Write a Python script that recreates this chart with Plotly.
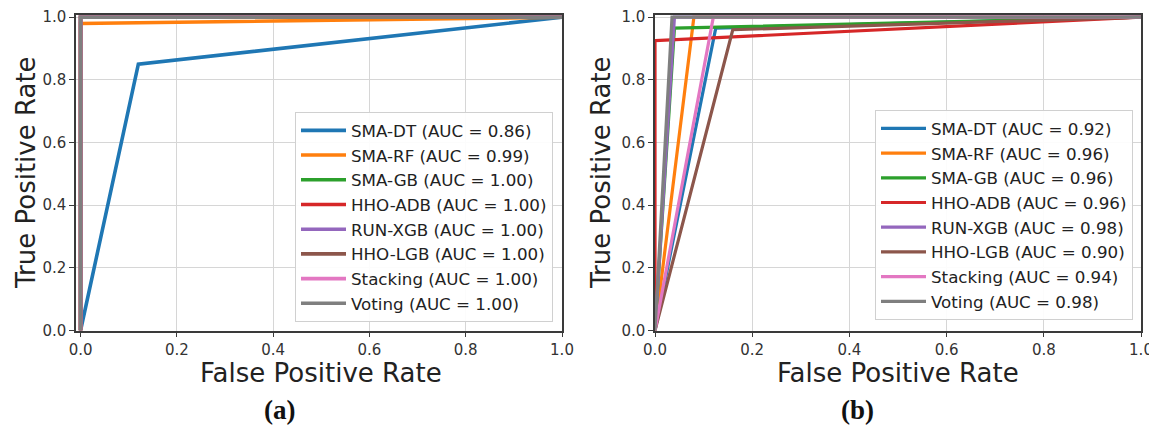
import plotly.graph_objects as go

W, H = 1149, 430

names = ["SMA-DT", "SMA-RF", "SMA-GB", "HHO-ADB", "RUN-XGB", "HHO-LGB", "Stacking", "Voting"]
colors = ["#1f77b4", "#ff7f0e", "#2ca02c", "#d62728", "#9467bd", "#8c564b", "#e377c2", "#7f7f7f"]

# Panel (a)
auc_a = ["0.86", "0.99", "1.00", "1.00", "1.00", "1.00", "1.00", "1.00"]
fpr_a = [[0, 0.12, 1], [0, 0, 1], [0, 0, 1], [0, 0, 1], [0, 0, 1], [0, 0, 1], [0, 0, 1], [0, 0, 1]]
tpr_a = [[0, 0.85, 1], [0, 0.98, 1], [0, 1, 1], [0, 1, 1], [0, 1, 1], [0, 1, 1], [0, 1, 1], [0, 1, 1]]

# Panel (b)
auc_b = ["0.92", "0.96", "0.96", "0.96", "0.98", "0.90", "0.94", "0.98"]
fpr_b = [[0, 0.125, 1], [0, 0.08, 1], [0, 0.04, 1], [0, 0, 1], [0, 0.04, 1], [0, 0.16, 1], [0, 0.12, 1], [0, 0.035, 1]]
tpr_b = [[0, 0.965, 1], [0, 1, 1], [0, 0.965, 1], [0, 0.925, 1], [0, 1, 1], [0, 0.96, 1], [0, 1, 1], [0, 1, 1]]

axis_ticks = [0.0, 0.2, 0.4, 0.6, 0.8, 1.0]
tick_text = ["0.0", "0.2", "0.4", "0.6", "0.8", "1.0"]

FONT = "DejaVu Sans"

fig = go.Figure()

for i, n in enumerate(names):
    fig.add_trace(go.Scatter(
        x=fpr_a[i], y=tpr_a[i], mode="lines",
        line=dict(color=colors[i], width=3.6),
        name=f"{n} (AUC = {auc_a[i]})",
        xaxis="x", yaxis="y", legend="legend",
    ))
for i, n in enumerate(names):
    fig.add_trace(go.Scatter(
        x=fpr_b[i], y=tpr_b[i], mode="lines",
        line=dict(color=colors[i], width=3.2),
        name=f"{n} (AUC = {auc_b[i]})",
        xaxis="x2", yaxis="y2", legend="legend2",
    ))

def px(x):
    return x / W

def py(y):
    return 1 - y / H

y_dom = [py(330.5), py(15)]

common_axis = dict(
    tickvals=axis_ticks, ticktext=tick_text,
    showgrid=True, gridcolor="#d6d6d6", gridwidth=1,
    showline=True, linecolor="#3a3a3a", linewidth=1.5, mirror=True,
    ticks="outside", ticklen=5, tickcolor="#3a3a3a", tickwidth=1.2,
    tickfont=dict(family=FONT, size=15, color="#333333"),
    zeroline=False, fixedrange=True, automargin=False,
    ticklabeloverflow="allow",
)

fig.update_layout(
    width=W, height=H,
    margin=dict(l=0, r=0, t=0, b=0, autoexpand=False),
    paper_bgcolor="white", plot_bgcolor="white",
    xaxis=dict(domain=[px(76), px(562)], anchor="y", range=[-0.0095, 1.0], **common_axis),
    yaxis=dict(domain=y_dom, anchor="x", range=[0, 1.007], **common_axis),
    xaxis2=dict(domain=[px(655), px(1141)], anchor="y2", range=[0, 1.0], **common_axis),
    yaxis2=dict(domain=y_dom, anchor="x2", range=[0, 1.007], **common_axis),
    legend=dict(
        x=px(553), y=py(322), xanchor="right", yanchor="bottom",
        bgcolor="rgba(255,255,255,0.92)", bordercolor="#d0d0d0", borderwidth=1,
        font=dict(family=FONT, size=16.7, color="#222222"),
        itemwidth=45, tracegroupgap=0,
    ),
    legend2=dict(
        x=px(1133), y=py(320), xanchor="right", yanchor="bottom",
        bgcolor="rgba(255,255,255,0.92)", bordercolor="#d0d0d0", borderwidth=1,
        font=dict(family=FONT, size=16.7, color="#222222"),
        itemwidth=45, tracegroupgap=0,
    ),
    showlegend=True,
)

annots = [
    dict(text="True Positive Rate", x=px(26), y=py(173), textangle=-90,
         font=dict(family=FONT, size=26, color="#222222")),
    dict(text="True Positive Rate", x=px(601), y=py(173), textangle=-90,
         font=dict(family=FONT, size=26, color="#222222")),
    dict(text="False Positive Rate", x=px(321), y=py(373),
         font=dict(family=FONT, size=26, color="#222222")),
    dict(text="False Positive Rate", x=px(898), y=py(373),
         font=dict(family=FONT, size=26, color="#222222")),
    dict(text="<b>(a)</b>", x=px(279), y=py(410),
         font=dict(family="Liberation Serif", size=27, color="#111111")),
    dict(text="<b>(b)</b>", x=px(857), y=py(410),
         font=dict(family="Liberation Serif", size=27, color="#111111")),
]
for a in annots:
    fig.add_annotation(xref="paper", yref="paper", showarrow=False,
                       xanchor="center", yanchor="middle", **a)

fig.write_html(
    "out.html",
    config={"displayModeBar": False},
    post_script="document.body.style.margin='0';document.body.style.overflow='hidden';",
)
